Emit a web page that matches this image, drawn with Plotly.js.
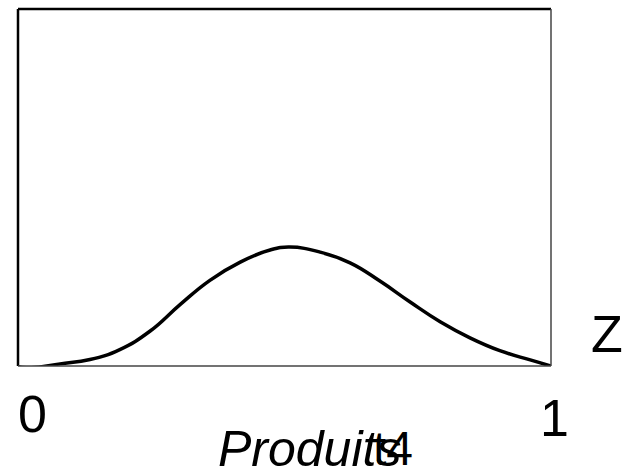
<!DOCTYPE html>
<html>
<head>
<meta charset="utf-8">
<script src="https://cdn.plot.ly/plotly-3.0.1.min.js"></script>
<style>
  html, body { margin: 0; padding: 0; background: #fff; }
  #chart { width: 623px; height: 471px; }
</style>
</head>
<body>
<div id="chart"></div>
<script>
// Density curve of Z over the unit interval
const xVals = [0, 0.0225, 0.079, 0.135, 0.191, 0.248, 0.304, 0.360, 0.417, 0.473,
               0.510, 0.567, 0.623, 0.679, 0.735, 0.792, 0.848, 0.904, 0.961, 1.0];
const zVals = [-0.002, -0.005, 0.006, 0.018, 0.046, 0.098, 0.172, 0.240, 0.291, 0.325,
               0.333, 0.319, 0.289, 0.238, 0.180, 0.124, 0.079, 0.043, 0.017, 0.0];

const tickLabels = ['0', '1'];
const axisName = 'Z';
const titleText = 'Produits';
const subText = 't4';

const FONT = 'Liberation Sans, Arial, sans-serif';

const trace = {
  x: xVals,
  y: zVals,
  type: 'scatter',
  mode: 'lines',
  line: { color: '#000', width: 3.5, shape: 'spline', smoothing: 1.3 },
  hoverinfo: 'skip',
  cliponaxis: false
};

const layout = {
  width: 623,
  height: 471,
  margin: { l: 18, r: 72, t: 9, b: 105, pad: 0 },
  paper_bgcolor: '#fff',
  plot_bgcolor: '#fff',
  showlegend: false,
  xaxis: { range: [0, 1], visible: false, fixedrange: true },
  yaxis: { range: [0, 1], visible: false, fixedrange: true },
  shapes: [
    // frame: heavier top and left edges, lighter right and bottom
    { type: 'line', xref: 'paper', yref: 'paper', x0: 0, x1: 1, y0: 1, y1: 1, line: { color: '#000', width: 2.5 } },
    { type: 'line', xref: 'paper', yref: 'paper', x0: 0, x1: 0, y0: 0, y1: 1, line: { color: '#000', width: 2.5 } },
    { type: 'line', xref: 'paper', yref: 'paper', x0: 1, x1: 1, y0: 0, y1: 1, line: { color: '#444', width: 1.5 } },
    { type: 'line', xref: 'paper', yref: 'paper', x0: 0, x1: 1, y0: 0, y1: 0, line: { color: '#444', width: 1.5 } }
  ],
  annotations: [
    { x: 0, y: -0.1345, xref: 'x', yref: 'paper', text: tickLabels[0], showarrow: false,
      xanchor: 'center', yanchor: 'middle', xshift: 14.5, font: { family: FONT, size: 52, color: '#000' } },
    { x: 1, y: -0.145, xref: 'x', yref: 'paper', text: tickLabels[1], showarrow: false,
      xanchor: 'center', yanchor: 'middle', xshift: 3, font: { family: FONT, size: 52, color: '#000' } },
    { x: 1.105, y: 0.0896, xref: 'paper', yref: 'paper', text: axisName, showarrow: false,
      xanchor: 'center', yanchor: 'middle', font: { family: FONT, size: 52, color: '#000' } },
    { x: 0.372, y: -0.232, xref: 'paper', yref: 'paper', text: titleText, showarrow: false,
      xanchor: 'left', yanchor: 'middle', font: { family: FONT, size: 50, color: '#000', style: 'italic' } },
    { x: (393 - 18) / 533, y: -0.232, xref: 'paper', yref: 'paper', text: subText, showarrow: false,
      xanchor: 'center', yanchor: 'middle', font: { family: FONT, size: 48, color: '#000' } }
  ]
};

Plotly.newPlot('chart', [trace], layout, { staticPlot: true, displayModeBar: false });
</script>
</body>
</html>
